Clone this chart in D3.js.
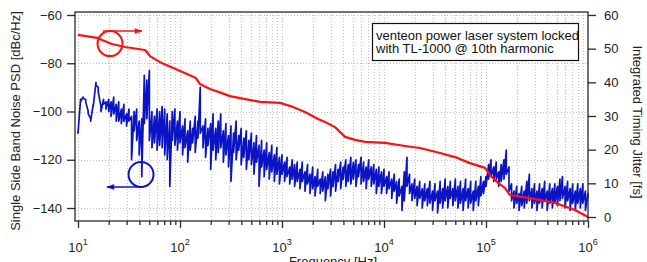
<!DOCTYPE html>
<html>
<head>
<meta charset="utf-8">
<script src="https://cdn.jsdelivr.net/npm/d3@7"></script>
<style>
body { margin: 0; background: #fff; }
svg { display: block; font-family: "Liberation Sans", Arial, sans-serif; }
</style>
</head>
<body>
<div id="chart"></div>
<script>
// phase noise PSD (blue, left axis): upper and lower edge of the noisy trace in each bin
const psdFreq = [
  10, 10.6, 11.2, 11.9, 12.6, 13.3, 14.1, 15, 15.8, 16.8, 17.8, 18.8, 20, 21.1, 22.4, 23.7, 25.1, 26.6, 28.2, 29.9,
  31.6, 33.5, 35.5, 37.6, 39.8, 42.2, 44.7, 47.3, 50.1, 53.1, 56.2, 59.6, 63.1, 66.8, 70.8, 75, 79.4, 84.1, 89.1, 94.4,
  100, 106, 112, 119, 126, 133, 141, 150, 158, 168, 178, 188, 200, 211, 224, 237, 251, 266, 282, 299,
  316, 335, 355, 376, 398, 422, 447, 473, 501, 531, 562, 596, 631, 668, 708, 750, 794, 841, 891, 944,
  1000, 1060, 1120, 1190, 1260, 1330, 1410, 1500, 1580, 1680, 1780, 1880, 2000, 2110, 2240, 2370, 2510, 2660, 2820, 2990,
  3160, 3350, 3550, 3760, 3980, 4220, 4470, 4730, 5010, 5310, 5620, 5960, 6310, 6680, 7080, 7500, 7940, 8410, 8910, 9440,
  1e4, 1.06e4, 1.12e4, 1.19e4, 1.26e4, 1.33e4, 1.41e4, 1.5e4, 1.58e4, 1.68e4, 1.78e4, 1.88e4, 2e4, 2.11e4, 2.24e4, 2.37e4, 2.51e4, 2.66e4, 2.82e4, 2.99e4,
  3.16e4, 3.35e4, 3.55e4, 3.76e4, 3.98e4, 4.22e4, 4.47e4, 4.73e4, 5.01e4, 5.31e4, 5.62e4, 5.96e4, 6.31e4, 6.68e4, 7.08e4, 7.5e4, 7.94e4, 8.41e4, 8.91e4, 9.44e4,
  1e5, 1.06e5, 1.12e5, 1.19e5, 1.26e5, 1.33e5, 1.41e5, 1.5e5, 1.58e5, 1.68e5, 1.78e5, 1.88e5, 2e5, 2.11e5, 2.24e5, 2.37e5, 2.51e5, 2.66e5, 2.82e5, 2.99e5,
  3.16e5, 3.35e5, 3.55e5, 3.76e5, 3.98e5, 4.22e5, 4.47e5, 4.73e5, 5.01e5, 5.31e5, 5.62e5, 5.96e5, 6.31e5, 6.68e5, 7.08e5, 7.5e5, 7.94e5, 8.41e5, 8.91e5, 9.44e5,
  1e6
];
const psdHigh = [
  -108, -95, -94, -95, -100, -103, -97, -88, -90, -98, -95, -96, -95, -96, -94, -97, -96, -99, -97, -101,
  -99, -102, -100, -99, -104, -103, -85, -87, -83, -100, -102, -99, -100, -98, -99, -101, -104, -100, -99, -104,
  -100, -106, -103, -108, -104, -107, -102, -104, -90, -106, -103, -107, -105, -101, -107, -104, -101, -108, -105, -110,
  -106, -109, -104, -110, -107, -111, -108, -112, -109, -113, -110, -114, -112, -116, -113, -117, -114, -118, -115, -119,
  -118, -121, -119, -123, -120, -122, -121, -124, -121, -125, -122, -126, -123, -127, -124, -128, -125, -127, -126, -124,
  -125, -122, -124, -121, -123, -120, -122, -119, -121, -120, -122, -119, -121, -123, -120, -123, -122, -124, -123, -125,
  -124, -127, -125, -128, -126, -129, -128, -131, -125, -119, -126, -130, -128, -131, -129, -132, -130, -132, -129, -133,
  -130, -133, -129, -132, -128, -131, -129, -132, -128, -131, -129, -132, -128, -132, -129, -133, -129, -131, -127, -129,
  -127, -122, -120, -123, -121, -125, -122, -120, -116, -123, -130, -133, -131, -134, -131, -133, -129, -126, -132, -130,
  -133, -130, -132, -129, -133, -130, -132, -130, -131, -128, -127, -131, -129, -132, -130, -133, -130, -132, -130, -133,
  -134
];
const psdLow = [
  -109, -96, -94.5, -96, -101, -104, -98, -89, -92, -100, -97, -99, -100, -102, -101, -104, -104, -105, -104, -106,
  -104, -120, -108, -112, -118, -127, -105, -103, -112, -115, -113, -116, -114, -115, -118, -120, -131, -112, -114, -116,
  -113, -118, -115, -121, -116, -113, -117, -111, -109, -115, -119, -114, -124, -116, -120, -117, -115, -121, -118, -123,
  -129, -117, -120, -116, -122, -119, -124, -120, -122, -126, -121, -131, -123, -127, -124, -128, -125, -129, -126, -130,
  -126, -129, -127, -130, -128, -131, -129, -132, -129, -133, -130, -134, -132, -135, -131, -134, -133, -137, -132, -135,
  -131, -133, -129, -132, -128, -131, -129, -130, -128, -131, -127, -130, -129, -132, -128, -131, -130, -134, -131, -134,
  -131, -134, -132, -136, -133, -138, -135, -141, -137, -131, -134, -137, -136, -139, -136, -140, -137, -139, -138, -141,
  -137, -142, -138, -140, -137, -140, -136, -139, -137, -140, -138, -141, -137, -140, -138, -141, -137, -139, -135, -134,
  -131, -128, -127, -129, -128, -131, -129, -128, -126, -133, -137, -140, -138, -141, -139, -140, -138, -137, -140, -138,
  -141, -138, -140, -137, -141, -138, -140, -138, -139, -137, -136, -140, -137, -141, -138, -141, -138, -140, -138, -141,
  -136
];

// integrated timing jitter (red, right axis)
const jitFreq = [10, 15.4, 21.5, 28.9, 45.4, 50.8, 63.7, 125, 143, 157, 197, 258, 309, 388, 609, 955, 1282, 1680,
  2254, 2642, 3311, 4150, 5200, 6516, 10230, 16070, 22540, 35400, 49660, 69700, 97700, 109400, 128200, 153600,
  171900, 270000, 474000, 746000, 1e6];
const jitFs = [54.1, 53.2, 51.4, 50.5, 49.6, 47.8, 46, 42.1, 41.3, 39.5, 38, 36.8, 35.9, 35.3, 34.2, 33.9, 32.7, 31.2,
  29.1, 28.2, 26.7, 23.8, 22.9, 22.3, 22, 21.1, 20.5, 19, 17.8, 16, 14.6, 12.5, 10.4, 8.6, 6.5, 5.6, 4.2, 2.1, 0];

const leftTicks = [-140, -120, -100, -80, -60];
const rightTicks = [0, 10, 20, 30, 40, 50, 60];
const decadeExp = [1, 2, 3, 4, 5, 6];
const legendLines = ["venteon power laser system locked", "with TL-1000 @ 10th harmonic"];

const W = 647, H = 262;
const box = {left: 75, right: 588, top: 12, bottom: 221};
const blue = '#0a14c4', red = '#ff1010', ink = '#222';

const x = d3.scaleLog().domain([10, 1e6]).range([78, 588]);
const yL = d3.scaleLinear().domain([-140, -60]).range([208, 15]);
const yR = d3.scaleLinear().domain([0, 60]).range([217, 15]);

const svg = d3.select('#chart').append('svg')
    .attr('width', W)
    .attr('height', H);

// dotted grid
const grid = svg.append('g')
    .attr('stroke', '#c2c2c2')
    .attr('stroke-width', 1)
    .attr('stroke-dasharray', '1,2');
grid.selectAll('line.gv')
    .data(x.ticks())
    .join('line')
    .attr('class', 'gv')
    .attr('x1', d => Math.round(x(d)) + 0.5)
    .attr('x2', d => Math.round(x(d)) + 0.5)
    .attr('y1', box.top)
    .attr('y2', box.bottom);
grid.selectAll('line.gh')
    .data(leftTicks)
    .join('line')
    .attr('class', 'gh')
    .attr('x1', box.left)
    .attr('x2', box.right)
    .attr('y1', d => Math.round(yL(d)) + 0.5)
    .attr('y2', d => Math.round(yL(d)) + 0.5);

// blue trace: each bin goes from its upper to its lower edge
const psd = [];
psdFreq.forEach((f, i) => {
    psd.push([f, psdHigh[i]]);
    psd.push([f, psdLow[i]]);
});
const jit = jitFreq.map((f, i) => [f, jitFs[i]]);

svg.append('path')
    .datum(psd)
    .attr('fill', 'none')
    .attr('stroke', blue)
    .attr('stroke-width', 1.7)
    .attr('stroke-linejoin', 'round')
    .attr('d', d3.line().x(d => x(d[0])).y(d => yL(d[1])));

svg.append('path')
    .datum(jit)
    .attr('fill', 'none')
    .attr('stroke', red)
    .attr('stroke-width', 2.2)
    .attr('stroke-linejoin', 'round')
    .attr('d', d3.line().x(d => x(d[0])).y(d => yR(d[1])));

// circles with arrows pointing at each curve's axis
function marker(cx, cy, r, xTo, color, up) {
    const g = svg.append('g').attr('stroke', color).attr('fill', 'none').attr('stroke-width', 2);
    g.append('circle').attr('cx', cx).attr('cy', cy).attr('r', r);
    const ay = up ? cy - r : cy + r;
    const xFrom = up ? cx - 7 : cx;
    g.append('line').attr('x1', xFrom).attr('x2', xTo).attr('y1', ay).attr('y2', ay).attr('stroke-width', 1.5);
    const dir = xTo > xFrom ? 1 : -1;
    g.append('path')
        .attr('d', `M${xTo},${ay}L${xTo - dir * 7},${ay - 2.5}L${xTo - dir * 7},${ay + 2.5}Z`)
        .attr('fill', color)
        .attr('stroke-width', 0.5);
}
marker(x(20.6), yR(51.5), 12.5, x(42.4), red, true);
marker(x(41.5), yL(-126.1), 12.5, x(19.2), blue, false);

// frame
svg.append('rect')
    .attr('x', box.left)
    .attr('y', box.top)
    .attr('width', box.right - box.left)
    .attr('height', box.bottom - box.top)
    .attr('fill', 'none')
    .attr('stroke', '#2a2a2a')
    .attr('stroke-width', 1.3);

// axes
const leftAxis = svg.append('g')
    .attr('transform', `translate(${box.left},0)`)
    .call(d3.axisLeft(yL).tickValues(leftTicks).tickSize(8).tickPadding(5).tickSizeOuter(0));
const rightAxis = svg.append('g')
    .attr('transform', `translate(${box.right},0)`)
    .call(d3.axisRight(yR).tickValues(rightTicks).tickSize(8).tickPadding(8).tickSizeOuter(0));
const bottomAxis = svg.append('g')
    .attr('transform', `translate(0,${box.bottom})`)
    .call(d3.axisBottom(x).tickValues(x.ticks()).tickFormat('').tickSize(4).tickSizeOuter(0));

[leftAxis, rightAxis, bottomAxis].forEach(a => {
    a.select('.domain').remove();
    a.selectAll('line').attr('stroke', '#2a2a2a').attr('stroke-width', 1.3);
    a.selectAll('text').attr('font-size', 13).attr('fill', ink).attr('font-family', null);
});
bottomAxis.selectAll('.tick line')
    .attr('y2', d => Math.abs(Math.log10(d) - Math.round(Math.log10(d))) < 1e-9 ? 7 : 4);

// decade labels 10^n
const decLabels = svg.append('g')
    .attr('font-size', 13)
    .attr('fill', ink)
    .attr('text-anchor', 'middle');
decadeExp.forEach(n => {
    const t = decLabels.append('text')
        .attr('x', x(Math.pow(10, n)))
        .attr('y', 252);
    t.append('tspan').text('10');
    t.append('tspan').attr('font-size', 9).attr('dy', -7).text(n);
});

// axis titles
svg.append('text')
    .attr('transform', 'translate(20,121) rotate(-90)')
    .attr('text-anchor', 'middle')
    .attr('font-size', 13)
    .attr('fill', ink)
    .text('Single Side Band Noise PSD [dBc/Hz]');
svg.append('text')
    .attr('transform', 'translate(633,122) rotate(90)')
    .attr('text-anchor', 'middle')
    .attr('font-size', 13)
    .attr('fill', ink)
    .text('Integrated Timing Jitter [fs]');
svg.append('text')
    .attr('x', 333)
    .attr('y', 266)
    .attr('text-anchor', 'middle')
    .attr('font-size', 13)
    .attr('fill', ink)
    .text('Frequency [Hz]');

// annotation box
const legend = svg.append('g');
legend.append('rect')
    .attr('x', 372.5)
    .attr('y', 23.5)
    .attr('width', 206)
    .attr('height', 37)
    .attr('fill', '#fff')
    .attr('stroke', '#111')
    .attr('stroke-width', 1.2);
legend.selectAll('text')
    .data(legendLines)
    .join('text')
    .attr('x', 376)
    .attr('y', (d, i) => 39.5 + i * 13.5)
    .attr('font-size', 13)
    .attr('fill', '#111')
    .text(d => d);
</script>
</body>
</html>
